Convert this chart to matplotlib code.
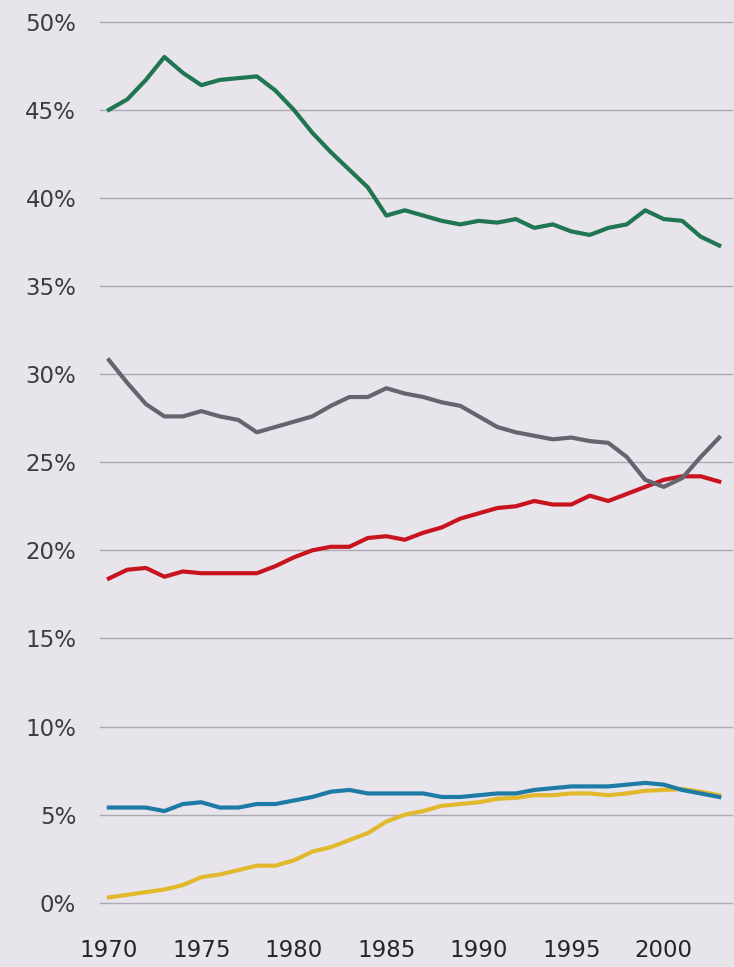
import matplotlib
matplotlib.use("Agg")
import matplotlib.pyplot as plt
import numpy as np

plt.rcParams.update({'font.size': 16.5, 'font.family': 'DejaVu Sans'})

# shares by year (percent)
years = list(range(1970, 2004))

green = [45.0, 45.6, 46.7, 48.0, 47.1, 46.4, 46.7, 46.8, 46.9, 46.1,
         45.0, 43.7, 42.6, 41.6, 40.6, 39.0, 39.3, 39.0, 38.7, 38.5,
         38.7, 38.6, 38.8, 38.3, 38.5, 38.1, 37.9, 38.3, 38.5, 39.3,
         38.8, 38.7, 37.8, 37.3]

gray = [30.8, 29.5, 28.3, 27.6, 27.6, 27.9, 27.6, 27.4, 26.7, 27.0,
        27.3, 27.6, 28.2, 28.7, 28.7, 29.2, 28.9, 28.7, 28.4, 28.2,
        27.6, 27.0, 26.7, 26.5, 26.3, 26.4, 26.2, 26.1, 25.3, 24.0,
        23.6, 24.1, 25.3, 26.4]

red = [18.4, 18.9, 19.0, 18.5, 18.8, 18.7, 18.7, 18.7, 18.7, 19.1,
       19.6, 20.0, 20.2, 20.2, 20.7, 20.8, 20.6, 21.0, 21.3, 21.8,
       22.1, 22.4, 22.5, 22.8, 22.6, 22.6, 23.1, 22.8, 23.2, 23.6,
       24.0, 24.2, 24.2, 23.9]

blue = [5.4, 5.4, 5.4, 5.2, 5.6, 5.7, 5.4, 5.4, 5.6, 5.6,
        5.8, 6.0, 6.3, 6.4, 6.2, 6.2, 6.2, 6.2, 6.0, 6.0,
        6.1, 6.2, 6.2, 6.4, 6.5, 6.6, 6.6, 6.6, 6.7, 6.8,
        6.7, 6.4, 6.2, 6.0]

yellow = [0.3, 0.45, 0.6, 0.75, 1.0, 1.45, 1.6, 1.85, 2.1, 2.1,
          2.4, 2.9, 3.15, 3.55, 3.95, 4.6, 5.0, 5.2, 5.5, 5.6,
          5.7, 5.9, 5.95, 6.1, 6.1, 6.2, 6.2, 6.1, 6.2, 6.35,
          6.4, 6.45, 6.3, 6.1]

y_ticks = [0, 5, 10, 15, 20, 25, 30, 35, 40, 45, 50]
x_ticks = [1970, 1975, 1980, 1985, 1990, 1995, 2000]

bg = '#e8e4ec'
fig = plt.figure(figsize=(7.34, 9.67), dpi=100, facecolor=bg)
ax = fig.add_axes([0.136, 0.0665, 0.861, 0.911])
ax.set_facecolor(bg)

ax.plot(years, yellow, color='#e2b82c', lw=3)
ax.plot(years, blue, color='#1d7ba6', lw=3)
ax.plot(years, red, color='#c8141f', lw=3)
ax.plot(years, gray, color='#65656f', lw=3)
ax.plot(years, green, color='#1f7650', lw=3)

ax.set_xlim(1969.51, 2003.68)
ax.set_ylim(0, 50)
ax.set_yticks(y_ticks)
ax.set_yticklabels([f'{t}%' for t in y_ticks])
ax.set_xticks(x_ticks)
ax.grid(axis='y', color='#acaab2', lw=1.0)
ax.set_axisbelow(True)
for s in ax.spines.values():
    s.set_visible(False)
ax.tick_params(axis='y', length=0, pad=17, labelcolor='#3c3c3c')
ax.tick_params(axis='x', length=0, pad=26, labelcolor='#262626')
for l in ax.get_ygridlines():
    l.set_clip_on(False)

fig.savefig('out.png', dpi=100, facecolor=bg)
